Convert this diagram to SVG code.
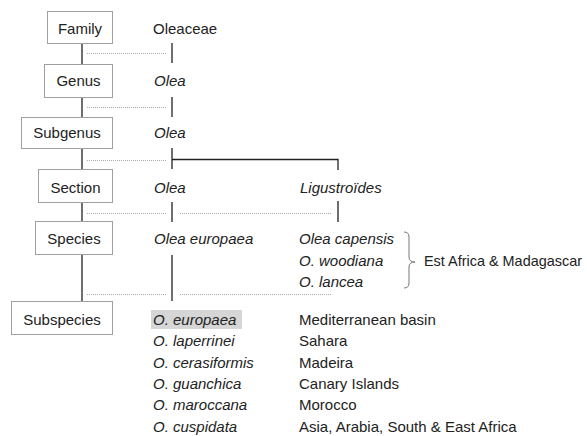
<svg xmlns="http://www.w3.org/2000/svg" width="587" height="436" viewBox="0 0 587 436">
<style>
text{font-family:"Liberation Sans",Arial,sans-serif;font-size:15px;fill:#222}
.i{font-style:italic}
.c{text-anchor:middle}
.box{fill:#fff;stroke:#a0a0a0;stroke-width:1}
.ln{stroke:#222;stroke-width:1.3;fill:none}
.dot{stroke:#aaa;stroke-width:1;stroke-dasharray:1 1;fill:none}
.brace{stroke:#777;stroke-width:1;fill:none}
</style>
<rect width="587" height="436" fill="#fff"/>
<g id="connectors">
<path class="ln" d="M82 43V64M82 97V117M82 148V169M82 202V221M82 254V301"/>
<path class="ln" d="M172 43V63M172 97V117M172 148V169M172 202V222M172 255V301"/>
<path class="ln" d="M172 159.5H338V170M338 201V222"/>
<path class="dot" d="M87 53.5H167M87 107.5H167M87 160.5H167M87 213.5H167M180 213.5H331M87 294.5H167M180 294.5H331"/>
<path class="brace" d="M404 232Q409 232 409 237V257Q409 262 415 262Q409 262 409 267V283Q409 288 404 288"/>
</g>
<g id="family"><rect class="box" x="47.5" y="11.5" width="65" height="32"/><text class="c" x="80" y="34">Family</text></g>
<g id="genus"><rect class="box" x="44.5" y="64.5" width="68" height="33"/><text class="c" x="78.5" y="86">Genus</text></g>
<g id="subgenus"><rect class="box" x="21.5" y="117.5" width="91" height="31"/><text class="c" x="67" y="138">Subgenus</text></g>
<g id="section"><rect class="box" x="38.5" y="169.5" width="74" height="33"/><text class="c" x="75.5" y="193">Section</text></g>
<g id="species"><rect class="box" x="35.5" y="221.5" width="77" height="33"/><text class="c" x="74" y="244">Species</text></g>
<g id="subspecies"><rect class="box" x="11.5" y="301.5" width="101" height="33"/><text class="c" x="62" y="325">Subspecies</text></g>
<g id="taxa">
<text x="153" y="34">Oleaceae</text>
<text class="i" x="154" y="86">Olea</text>
<text class="i" x="154" y="138">Olea</text>
<text class="i" x="154" y="193">Olea</text>
<text class="i" x="300" y="193">Ligustroïdes</text>
<text class="i" x="154" y="244">Olea europaea</text>
<text class="i" x="299" y="244">Olea capensis</text>
<text class="i" x="299" y="265.5">O. woodiana</text>
<text class="i" x="299" y="287">O. lancea</text>
<text x="424" y="266" textLength="158" lengthAdjust="spacingAndGlyphs">Est Africa &amp; Madagascar</text>
</g>
<g id="subspecies-list">
<rect x="151" y="310" width="91" height="19" fill="#d6d6d6"/>
<text class="i" x="153" y="325">O. europaea</text>
<text class="i" x="153" y="346.3">O. laperrinei</text>
<text class="i" x="153" y="367.6">O. cerasiformis</text>
<text class="i" x="153" y="389">O. guanchica</text>
<text class="i" x="153" y="410.3">O. maroccana</text>
<text class="i" x="153" y="431.6">O. cuspidata</text>
<text x="299" y="325">Mediterranean basin</text>
<text x="299" y="346.3">Sahara</text>
<text x="299" y="367.6">Madeira</text>
<text x="299" y="389">Canary Islands</text>
<text x="299" y="410.3">Morocco</text>
<text x="299" y="431.6">Asia, Arabia, South &amp; East Africa</text>
</g>
</svg>
